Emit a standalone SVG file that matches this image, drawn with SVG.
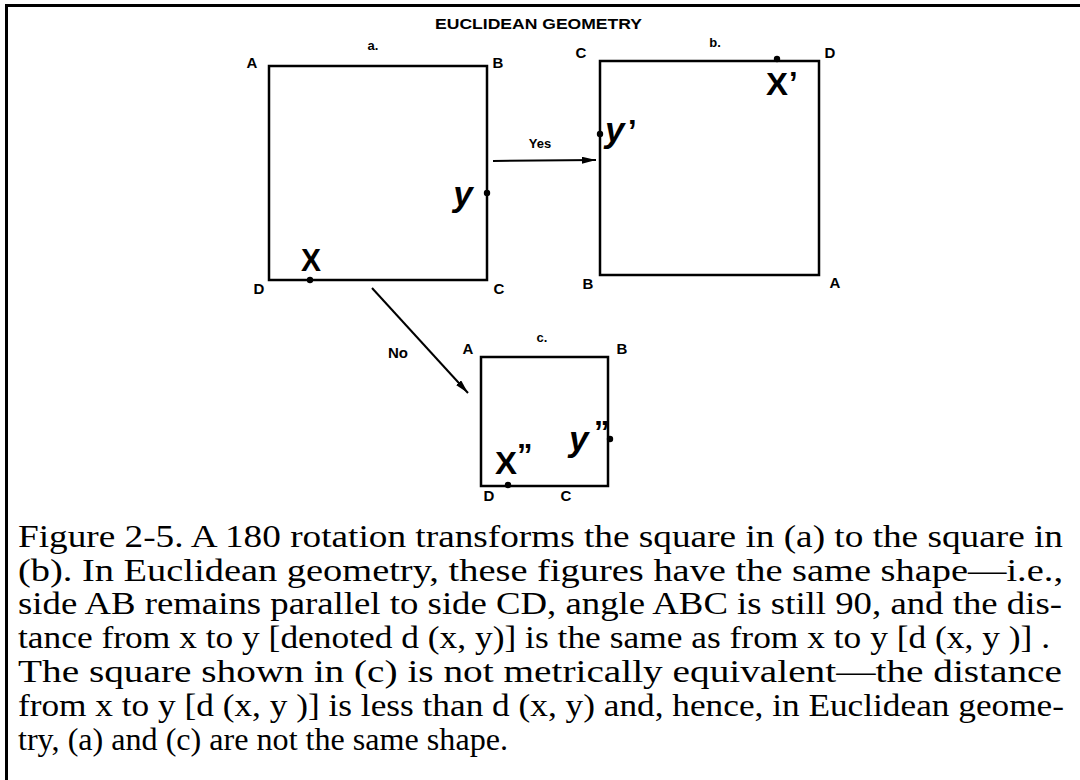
<svg xmlns="http://www.w3.org/2000/svg" width="1080" height="780" viewBox="0 0 1080 780">
<defs>
<style>
.sq{fill:none;stroke:#000;stroke-width:2.5}
.lbl{font-family:"Liberation Sans",Arial,sans-serif;font-weight:bold;font-size:15px;fill:#000}
.sm{font-family:"Liberation Sans",Arial,sans-serif;font-weight:bold;font-size:13px;fill:#000}
.big{font-family:"Liberation Sans",Arial,sans-serif;font-weight:bold;font-size:31px;fill:#000}
.bigi{font-family:"Liberation Sans",Arial,sans-serif;font-weight:bold;font-style:italic;font-size:35px;fill:#000}
.cap{font-family:"Liberation Serif","Times New Roman",serif;font-size:31px;fill:#000}
.ln{stroke:#000;stroke-width:2;fill:none}
</style>
<marker id="ah" markerUnits="userSpaceOnUse" markerWidth="15" markerHeight="8" refX="14" refY="3.5" orient="auto">
<path d="M0,0 L14,3.5 L0,7 z" fill="#000"/>
</marker>
</defs>
<rect width="1080" height="780" fill="#fff"/>
<g id="frame">
<path d="M6.5,780 V5.5 H1080" fill="none" stroke="#000" stroke-width="3"/>
</g>
<g id="title">
<text class="lbl" x="435" y="29" textLength="207" lengthAdjust="spacingAndGlyphs">EUCLIDEAN GEOMETRY</text>
</g>
<g id="square-a">
<rect class="sq" x="269" y="66" width="218" height="214"/>
<text class="lbl" x="252" y="68" text-anchor="middle">A</text>
<text class="sm" x="373" y="50" text-anchor="middle">a.</text>
<text class="lbl" x="498" y="68" text-anchor="middle">B</text>
<text class="lbl" x="259" y="294" text-anchor="middle">D</text>
<text class="lbl" x="499" y="294" text-anchor="middle">C</text>
<circle cx="310" cy="280" r="3.2"/>
<text class="big" x="311" y="271" text-anchor="middle" textLength="20" lengthAdjust="spacingAndGlyphs">X</text>
<circle cx="487" cy="193" r="3.2"/>
<text class="bigi" x="463" y="206" text-anchor="middle">y</text>
</g>
<g id="square-b">
<rect class="sq" x="600" y="61" width="219" height="214"/>
<text class="lbl" x="581" y="58" text-anchor="middle">C</text>
<text class="sm" x="715" y="47" text-anchor="middle">b.</text>
<text class="lbl" x="830" y="58" text-anchor="middle">D</text>
<text class="lbl" x="588" y="289" text-anchor="middle">B</text>
<text class="lbl" x="835" y="288" text-anchor="middle">A</text>
<circle cx="777" cy="59" r="3.2"/>
<text class="big" x="766" y="95" textLength="22" lengthAdjust="spacingAndGlyphs">X</text>
<text class="big" x="789" y="94" font-size="28">’</text>
<circle cx="600" cy="134" r="3.2"/>
<text class="bigi" x="605" y="142">y</text>
<text class="big" x="628" y="142" font-size="28">’</text>
</g>
<g id="square-c">
<rect class="sq" x="481" y="357" width="127" height="129"/>
<text class="lbl" x="468" y="354" text-anchor="middle">A</text>
<text class="sm" x="542" y="342" text-anchor="middle">c.</text>
<text class="lbl" x="622" y="354" text-anchor="middle">B</text>
<text class="lbl" x="489" y="501" text-anchor="middle">D</text>
<text class="lbl" x="566" y="501" text-anchor="middle">C</text>
<circle cx="508" cy="485" r="3.2"/>
<text class="big" x="495" y="474" textLength="22" lengthAdjust="spacingAndGlyphs">X</text>
<text class="big" x="517" y="466" font-size="22">”</text>
<circle cx="610" cy="439" r="3.2"/>
<text class="bigi" x="569" y="451">y</text>
<text class="big" x="594" y="443" font-size="22">”</text>
</g>
<g id="connectors">
<line class="ln" x1="493" y1="161" x2="596" y2="160" marker-end="url(#ah)"/>
<text class="sm" x="540" y="148" text-anchor="middle">Yes</text>
<line class="ln" x1="372" y1="288" x2="468" y2="393" marker-end="url(#ah)"/>
<text class="lbl" x="398" y="358" text-anchor="middle">No</text>
</g>
<g id="caption">
<text class="cap" x="18" y="547" textLength="1045" lengthAdjust="spacingAndGlyphs">Figure 2-5. A 180 rotation transforms the square in (a) to the square in</text>
<text class="cap" x="18" y="581" textLength="1045" lengthAdjust="spacingAndGlyphs">(b). In Euclidean geometry, these figures have the same shape—i.e.,</text>
<text class="cap" x="18" y="614" textLength="1044" lengthAdjust="spacingAndGlyphs">side AB remains parallel to side CD, angle ABC is still 90, and the dis-</text>
<text class="cap" x="18" y="648" textLength="1032" lengthAdjust="spacingAndGlyphs">tance from x to y [denoted d (x, y)] is the same as from x to y [d (x, y )] .</text>
<text class="cap" x="18" y="682" textLength="1044" lengthAdjust="spacingAndGlyphs">The square shown in (c) is not metrically equivalent—the distance</text>
<text class="cap" x="18" y="716" textLength="1046" lengthAdjust="spacingAndGlyphs">from x to y [d (x, y )] is less than d (x, y) and, hence, in Euclidean geome-</text>
<text class="cap" x="18" y="750" textLength="490" lengthAdjust="spacingAndGlyphs">try, (a) and (c) are not the same shape.</text>
</g>
</svg>
